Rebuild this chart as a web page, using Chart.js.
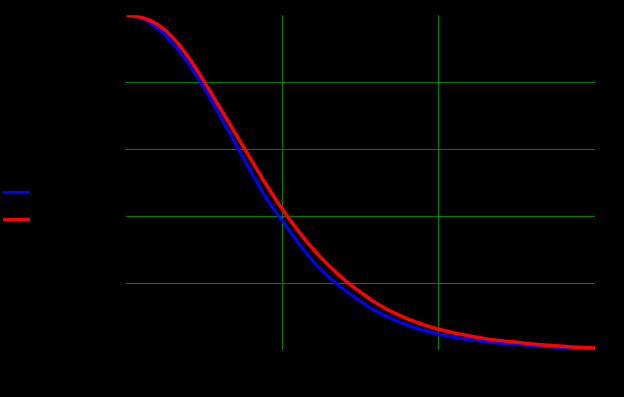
<!DOCTYPE html>
<html>
<head>
<meta charset="utf-8">
<script src="https://cdn.jsdelivr.net/npm/chart.js@4.4.1/dist/chart.umd.min.js"></script>
<style>
  html, body { margin: 0; padding: 0; background: #000; }
  #wrap { position: relative; width: 624px; height: 397px; }
</style>
</head>
<body>
<div id="wrap"><canvas id="chart"></canvas></div>
<script>
// x positions of the samples
const xValues = [0, 0.1, 0.2, 0.3, 0.4, 0.5, 0.6, 0.7, 0.8, 0.9, 1.0,
                 1.1, 1.2, 1.3, 1.4, 1.5, 1.6, 1.7, 1.8, 1.9, 2.0,
                 2.1, 2.2, 2.3, 2.4, 2.5, 2.6, 2.7, 2.8, 2.9, 3.0];

// blue curve
const blueValues = [1.000, 0.990, 0.961, 0.914, 0.853, 0.780, 0.699, 0.614, 0.530, 0.450, 0.385,
                    0.320, 0.262, 0.216, 0.178, 0.145, 0.116, 0.093, 0.074, 0.059, 0.047,
                    0.038, 0.031, 0.025, 0.020, 0.017, 0.013, 0.010, 0.007, 0.005, 0.003];

// red curve
const redValues = [1.000, 0.993, 0.972, 0.932, 0.872, 0.800, 0.722, 0.645, 0.567, 0.490, 0.420,
                   0.356, 0.299, 0.250, 0.208, 0.172, 0.140, 0.114, 0.093, 0.076, 0.062,
                   0.051, 0.042, 0.034, 0.028, 0.023, 0.018, 0.014, 0.011, 0.008, 0.006];

const seriesNames = ["data1", "data2"];
const xTicks = [0, 1, 2, 3];
const yTicks = [0, 0.2, 0.4, 0.6, 0.8, 1];

const toPoints = (ys) => xValues.map((x, i) => ({x: x, y: ys[i]}));

// no grid line on the plot edges
const gridColor = (ctx, ticks) => {
    const v = ctx.tick ? ctx.tick.value : null;
    if (v === ticks[0] || v === ticks[ticks.length - 1]) return "rgba(0,0,0,0)";
    return "#008000";
};

new Chart(document.getElementById("chart"), {
    type: "line",
    data: {
        datasets: [
            {
                label: seriesNames[0],
                data: toPoints(blueValues),
                borderColor: "#0000ff",
                backgroundColor: "#0000ff",
                borderWidth: 3,
                pointRadius: 0,
                cubicInterpolationMode: "monotone",
                order: 1
            },
            {
                label: seriesNames[1],
                data: toPoints(redValues),
                borderColor: "#ff0000",
                backgroundColor: "#ff0000",
                borderWidth: 3.5,
                pointRadius: 0,
                cubicInterpolationMode: "monotone",
                order: 0
            }
        ]
    },
    options: {
        responsive: true,
        maintainAspectRatio: false,
        animation: false,
        layout: {
            padding: {left: -10, right: 29, top: 15, bottom: 0}
        },
        plugins: {
            tooltip: {enabled: false},
            legend: {
                position: "left",
                labels: {
                    color: "#000",
                    font: {family: "DejaVu Sans", size: 14},
                    boxWidth: 27,
                    boxHeight: 3,
                    padding: 13,
                    sort: (a, b) => a.datasetIndex - b.datasetIndex,
                    generateLabels: (chart) =>
                        Chart.defaults.plugins.legend.labels.generateLabels(chart)
                            .map(l => Object.assign(l, {lineWidth: 0}))
                }
            }
        },
        scales: {
            x: {
                type: "linear",
                min: xTicks[0],
                max: xTicks[xTicks.length - 1],
                afterBuildTicks: (s) => { s.ticks = xTicks.map(v => ({value: v})); },
                border: {display: false},
                grid: {
                    color: (ctx) => gridColor(ctx, xTicks),
                    lineWidth: 1,
                    drawTicks: false
                },
                ticks: {color: "#000", font: {family: "DejaVu Sans", size: 12}, padding: 8},
                afterFit: (s) => { s.height = 47; }
            },
            y: {
                type: "linear",
                min: yTicks[0],
                max: yTicks[yTicks.length - 1],
                afterBuildTicks: (s) => { s.ticks = yTicks.map(v => ({value: v})); },
                border: {display: false},
                grid: {
                    color: (ctx) => gridColor(ctx, yTicks),
                    lineWidth: 1,
                    drawTicks: false
                },
                ticks: {color: "#000", font: {family: "DejaVu Sans", size: 12}, padding: 8},
                afterFit: (s) => { s.width = 39; }
            }
        }
    }
});
</script>
</body>
</html>
